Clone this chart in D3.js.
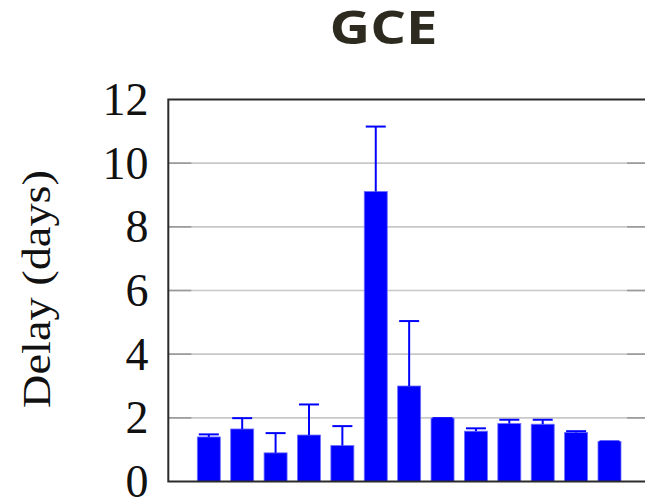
<!DOCTYPE html>
<html>
<head>
<meta charset="utf-8">
<script src="https://cdn.jsdelivr.net/npm/d3@7"></script>
<style>
  html, body { margin: 0; padding: 0; background: #fff; }
  svg { display: block; }
</style>
</head>
<body>
<script>
// Mean delay per run (days) and upper error whisker length
const categories = ["1","2","3","4","5","6","7","8","9","10","11","12","13"];
const meanDelay = [1.40, 1.65, 0.90, 1.46, 1.13, 9.11, 3.00, 1.99, 1.58, 1.82, 1.80, 1.54, 1.26];
const errDelay  = [0.08, 0.34, 0.62, 0.96, 0.61, 2.04, 2.04, 0.00, 0.09, 0.12, 0.14, 0.04, 0.00];
const yTicks = [0, 2, 4, 6, 8, 10, 12];

const W = 645, H = 499;
const plotL = 168.3, plotR = 650, plotT = 99.5, plotB = 481.5;

const svg = d3.select("body").append("svg")
  .attr("width", W).attr("height", H);

const x = d3.scalePoint().domain(categories).range([plotL, plotR]).padding(1.213);
const y = d3.scaleLinear().domain([0, 12]).range([plotB, plotT]);
const barW = 23;

// title
svg.append("text")
  .attr("x", 383.5).attr("y", 43.5)
  .attr("text-anchor", "middle")
  .attr("font-family", "'Open Sans', sans-serif")
  .attr("font-weight", 700)
  .attr("font-size", 47)
  .attr("fill", "#2d2a20")
  .attr("textLength", 108)
  .attr("lengthAdjust", "spacingAndGlyphs")
  .text("GCE");

// horizontal grid
svg.append("g").selectAll("line")
  .data(yTicks.filter(d => d > 0 && d < 12))
  .join("line")
  .attr("x1", plotL).attr("x2", plotR)
  .attr("y1", d => y(d)).attr("y2", d => y(d))
  .attr("stroke", "#c8c8c8").attr("stroke-width", 1.6);

// inward tick marks on both sides
const tickG = svg.append("g");
yTicks.filter(d => d > 0 && d < 12).forEach(d => {
  tickG.append("line").attr("x1", plotL).attr("x2", plotL + 23)
    .attr("y1", y(d)).attr("y2", y(d))
    .attr("stroke", "#9a9a9a").attr("stroke-width", 1.6);
  tickG.append("line").attr("x1", plotR - 23).attr("x2", plotR)
    .attr("y1", y(d)).attr("y2", y(d))
    .attr("stroke", "#9a9a9a").attr("stroke-width", 1.6);
});

// bars
svg.append("g").selectAll("rect")
  .data(meanDelay)
  .join("rect")
  .attr("x", (d, i) => x(categories[i]) - barW / 2)
  .attr("width", barW)
  .attr("y", d => y(d))
  .attr("height", d => plotB - y(d))
  .attr("fill", "#0000ff")
  .attr("stroke", "#6f6fff").attr("stroke-width", 0.8);

// upper error whiskers with caps
const eg = svg.append("g").attr("stroke", "#0000ff").attr("stroke-width", 2);
meanDelay.forEach((m, i) => {
  const cx = x(categories[i]);
  const yt = y(m + errDelay[i]);
  eg.append("line").attr("x1", cx).attr("x2", cx).attr("y1", y(m)).attr("y2", yt);
  eg.append("line").attr("x1", cx - 10).attr("x2", cx + 10).attr("y1", yt).attr("y2", yt);
});

// axis frame
svg.append("rect")
  .attr("x", plotL).attr("y", plotT)
  .attr("width", plotR - plotL).attr("height", plotB - plotT)
  .attr("fill", "none").attr("stroke", "#2b2b2b").attr("stroke-width", 2);

// y tick labels
svg.append("g").selectAll("text")
  .data(yTicks)
  .join("text")
  .attr("x", 148.5)
  .attr("y", d => y(d))
  .attr("dy", "0.34em")
  .attr("text-anchor", "end")
  .attr("font-family", "'Liberation Serif', 'DejaVu Serif', serif")
  .attr("font-size", 46)
  .attr("fill", "#111")
  .text(d => d);

// y axis title
svg.append("text")
  .attr("transform", "translate(50,289) rotate(-90)")
  .attr("text-anchor", "middle")
  .attr("font-family", "'Liberation Serif', 'DejaVu Serif', serif")
  .attr("font-size", 41)
  .attr("fill", "#111")
  .attr("textLength", 238)
  .attr("lengthAdjust", "spacingAndGlyphs")
  .text("Delay (days)");
</script>
</body>
</html>
